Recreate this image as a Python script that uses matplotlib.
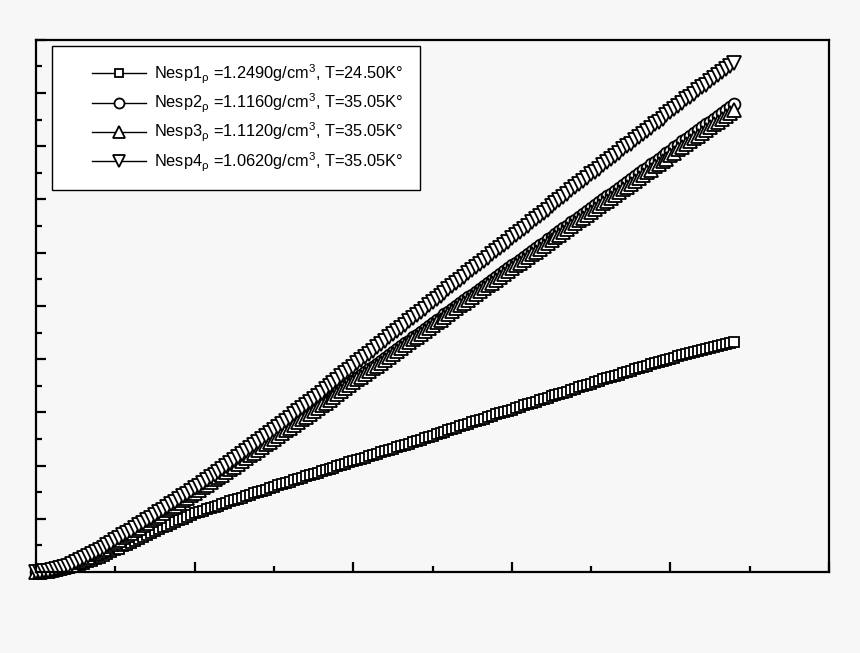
import numpy as np
import matplotlib.pyplot as plt
from matplotlib.ticker import MultipleLocator
from matplotlib.legend_handler import HandlerLine2D

# sample positions (markers are evenly spaced along x in the picture)
x = np.round(np.arange(0, 4.4001, 0.025), 3)

# one row = 0.2 along x
nesp1 = [0.00, 0.00, 0.00, 0.01, 0.01, 0.02, 0.03, 0.05,
         0.07, 0.09, 0.11, 0.14, 0.16, 0.19, 0.21, 0.24,
         0.27, 0.30, 0.34, 0.37, 0.41, 0.44, 0.48, 0.51,
         0.55, 0.59, 0.62, 0.66, 0.70, 0.73, 0.77, 0.80,
         0.84, 0.87, 0.91, 0.94, 0.97, 1.00, 1.04, 1.07,
         1.10, 1.13, 1.15, 1.18, 1.20, 1.23, 1.25, 1.28,
         1.30, 1.33, 1.35, 1.38, 1.40, 1.43, 1.45, 1.48,
         1.50, 1.53, 1.55, 1.58, 1.60, 1.63, 1.65, 1.68,
         1.70, 1.72, 1.75, 1.77, 1.80, 1.82, 1.84, 1.87,
         1.89, 1.91, 1.94, 1.96, 1.99, 2.01, 2.03, 2.06,
         2.08, 2.10, 2.13, 2.15, 2.18, 2.20, 2.22, 2.25,
         2.27, 2.29, 2.32, 2.34, 2.37, 2.39, 2.41, 2.44,
         2.46, 2.49, 2.51, 2.54, 2.56, 2.59, 2.61, 2.64,
         2.66, 2.69, 2.71, 2.74, 2.76, 2.79, 2.81, 2.84,
         2.86, 2.88, 2.91, 2.93, 2.96, 2.98, 3.00, 3.03,
         3.05, 3.08, 3.10, 3.13, 3.15, 3.18, 3.20, 3.23,
         3.25, 3.27, 3.30, 3.32, 3.35, 3.37, 3.39, 3.42,
         3.44, 3.47, 3.49, 3.52, 3.54, 3.57, 3.59, 3.62,
         3.64, 3.66, 3.69, 3.71, 3.74, 3.76, 3.78, 3.81,
         3.83, 3.85, 3.88, 3.90, 3.92, 3.94, 3.97, 3.99,
         4.01, 4.03, 4.05, 4.07, 4.09, 4.11, 4.13, 4.15,
         4.17, 4.19, 4.21, 4.23, 4.25, 4.26, 4.28, 4.30,
         4.32]

nesp2 = [0.00, 0.00, 0.01, 0.02, 0.03, 0.05, 0.07, 0.09,
         0.11, 0.14, 0.18, 0.21, 0.25, 0.29, 0.33, 0.36,
         0.40, 0.44, 0.48, 0.53, 0.57, 0.61, 0.65, 0.70,
         0.74, 0.79, 0.83, 0.88, 0.92, 0.97, 1.02, 1.06,
         1.11, 1.16, 1.20, 1.25, 1.30, 1.35, 1.39, 1.44,
         1.49, 1.54, 1.59, 1.64, 1.69, 1.74, 1.79, 1.84,
         1.89, 1.94, 1.99, 2.05, 2.10, 2.15, 2.20, 2.26,
         2.31, 2.36, 2.42, 2.47, 2.52, 2.58, 2.63, 2.69,
         2.74, 2.79, 2.85, 2.90, 2.95, 3.01, 3.06, 3.12,
         3.17, 3.22, 3.28, 3.33, 3.38, 3.44, 3.49, 3.55,
         3.59, 3.64, 3.70, 3.75, 3.81, 3.86, 3.91, 3.97,
         4.02, 4.08, 4.13, 4.19, 4.24, 4.30, 4.35, 4.41,
         4.46, 4.51, 4.56, 4.62, 4.67, 4.73, 4.78, 4.84,
         4.89, 4.95, 5.00, 5.06, 5.11, 5.16, 5.21, 5.27,
         5.32, 5.38, 5.43, 5.49, 5.54, 5.60, 5.65, 5.71,
         5.76, 5.81, 5.86, 5.92, 5.97, 6.03, 6.08, 6.14,
         6.19, 6.25, 6.30, 6.36, 6.41, 6.46, 6.51, 6.57,
         6.62, 6.68, 6.73, 6.79, 6.84, 6.90, 6.95, 7.01,
         7.06, 7.11, 7.16, 7.22, 7.27, 7.33, 7.38, 7.44,
         7.49, 7.55, 7.60, 7.66, 7.71, 7.76, 7.81, 7.87,
         7.92, 7.98, 8.03, 8.09, 8.14, 8.20, 8.25, 8.31,
         8.36, 8.41, 8.46, 8.52, 8.57, 8.63, 8.68, 8.74,
         8.79]

nesp3 = [0.00, 0.00, 0.01, 0.02, 0.03, 0.05, 0.07, 0.09,
         0.11, 0.14, 0.18, 0.21, 0.25, 0.29, 0.33, 0.36,
         0.40, 0.44, 0.48, 0.53, 0.57, 0.61, 0.65, 0.70,
         0.74, 0.79, 0.83, 0.88, 0.92, 0.97, 1.02, 1.06,
         1.11, 1.16, 1.20, 1.25, 1.30, 1.35, 1.39, 1.44,
         1.49, 1.54, 1.59, 1.64, 1.69, 1.74, 1.78, 1.83,
         1.88, 1.93, 1.98, 2.03, 2.09, 2.14, 2.19, 2.24,
         2.29, 2.34, 2.40, 2.45, 2.50, 2.55, 2.61, 2.66,
         2.71, 2.76, 2.82, 2.87, 2.92, 2.97, 3.03, 3.08,
         3.13, 3.18, 3.24, 3.29, 3.35, 3.40, 3.46, 3.51,
         3.57, 3.62, 3.67, 3.72, 3.78, 3.83, 3.88, 3.93,
         3.99, 4.04, 4.10, 4.15, 4.21, 4.26, 4.32, 4.37,
         4.42, 4.47, 4.53, 4.58, 4.64, 4.69, 4.74, 4.79,
         4.85, 4.90, 4.96, 5.01, 5.06, 5.11, 5.17, 5.22,
         5.28, 5.33, 5.39, 5.44, 5.49, 5.54, 5.60, 5.65,
         5.71, 5.76, 5.81, 5.86, 5.92, 5.97, 6.02, 6.07,
         6.13, 6.18, 6.24, 6.29, 6.34, 6.39, 6.45, 6.50,
         6.56, 6.61, 6.66, 6.71, 6.77, 6.82, 6.88, 6.93,
         6.98, 7.03, 7.09, 7.14, 7.19, 7.24, 7.30, 7.35,
         7.41, 7.46, 7.51, 7.56, 7.62, 7.67, 7.72, 7.77,
         7.83, 7.88, 7.94, 7.99, 8.04, 8.09, 8.15, 8.20,
         8.25, 8.30, 8.36, 8.41, 8.46, 8.51, 8.57, 8.62,
         8.68]

nesp4 = [0.00, 0.00, 0.01, 0.02, 0.03, 0.05, 0.07, 0.09,
         0.12, 0.15, 0.19, 0.22, 0.26, 0.30, 0.34, 0.38,
         0.42, 0.46, 0.51, 0.55, 0.60, 0.64, 0.69, 0.73,
         0.78, 0.83, 0.88, 0.92, 0.97, 1.02, 1.07, 1.12,
         1.17, 1.22, 1.27, 1.32, 1.37, 1.42, 1.47, 1.52,
         1.57, 1.62, 1.67, 1.73, 1.78, 1.83, 1.88, 1.94,
         1.99, 2.05, 2.10, 2.16, 2.21, 2.27, 2.33, 2.38,
         2.44, 2.50, 2.55, 2.61, 2.67, 2.73, 2.78, 2.84,
         2.90, 2.96, 3.02, 3.08, 3.14, 3.19, 3.25, 3.31,
         3.37, 3.43, 3.49, 3.55, 3.61, 3.68, 3.74, 3.80,
         3.86, 3.92, 3.98, 4.04, 4.10, 4.16, 4.23, 4.29,
         4.35, 4.41, 4.47, 4.53, 4.59, 4.65, 4.71, 4.77,
         4.83, 4.89, 4.95, 5.01, 5.07, 5.13, 5.19, 5.25,
         5.31, 5.37, 5.43, 5.49, 5.55, 5.61, 5.67, 5.73,
         5.79, 5.85, 5.91, 5.97, 6.03, 6.09, 6.15, 6.21,
         6.27, 6.33, 6.39, 6.45, 6.51, 6.57, 6.63, 6.69,
         6.75, 6.81, 6.87, 6.93, 6.99, 7.05, 7.11, 7.17,
         7.23, 7.29, 7.35, 7.41, 7.47, 7.52, 7.58, 7.64,
         7.70, 7.76, 7.82, 7.88, 7.94, 8.00, 8.05, 8.11,
         8.17, 8.23, 8.29, 8.35, 8.41, 8.46, 8.52, 8.58,
         8.64, 8.70, 8.76, 8.82, 8.88, 8.93, 8.99, 9.05,
         9.11, 9.16, 9.22, 9.28, 9.34, 9.39, 9.45, 9.51,
         9.57]

labels = [r'Nesp1$_{\rho}$ =1.2490g/cm$^3$, T=24.50K°',
          r'Nesp2$_{\rho}$ =1.1160g/cm$^3$, T=35.05K°',
          r'Nesp3$_{\rho}$ =1.1120g/cm$^3$, T=35.05K°',
          r'Nesp4$_{\rho}$ =1.0620g/cm$^3$, T=35.05K°']
markers = ['s', 'o', '^', 'v']
msizes = [7, 8.5, 9.5, 9.5]


class PadHandler(HandlerLine2D):
    # leave blank space before the legend line, as in the original
    def get_xdata(self, legend, xdescent, ydescent, width, height, fontsize):
        pad = 0.3 * width
        return super().get_xdata(legend, xdescent - pad, ydescent, width - pad,
                                 height, fontsize)


plt.rcParams['font.family'] = ['Liberation Sans', 'DejaVu Sans']
plt.rcParams['mathtext.fontset'] = 'custom'
plt.rcParams['mathtext.rm'] = 'Liberation Sans'
plt.rcParams['mathtext.it'] = 'Liberation Sans'

bg = '#f7f7f7'
fig = plt.figure(figsize=(8.6, 6.53), dpi=100, facecolor=bg)
ax = fig.add_axes([0.042, 0.124, 0.922, 0.815], facecolor=bg)

for ys, m, ms, lab in zip([nesp1, nesp2, nesp3, nesp4], markers, msizes, labels):
    ax.plot(x, ys, color='black', lw=1, marker=m, ms=ms, mfc='white',
            mec='black', mew=1.3, label=lab, clip_on=False)

ax.set_xlim(0, 5)
ax.set_ylim(0, 10)
ax.xaxis.set_major_locator(MultipleLocator(1))
ax.xaxis.set_minor_locator(MultipleLocator(0.5))
ax.yaxis.set_major_locator(MultipleLocator(1))
ax.yaxis.set_minor_locator(MultipleLocator(0.5))
ax.tick_params(which='both', direction='in', top=False, right=False,
               labelbottom=False, labelleft=False, width=1.6, color='black')
ax.tick_params(which='major', length=7.5)
ax.tick_params(which='minor', length=4)
for s in ax.spines.values():
    s.set_linewidth(1.6)

leg = ax.legend(loc='upper left', bbox_to_anchor=(0.02, 0.988), borderaxespad=0,
                fontsize=11.8, fancybox=False, edgecolor='black', framealpha=1,
                handlelength=4.75, handletextpad=0.5, labelspacing=0.36,
                borderpad=1.0, markerscale=0.85,
                handler_map={plt.Line2D: PadHandler()})
leg.get_frame().set_linewidth(1.0)

fig.savefig('out.png', dpi=100, facecolor=bg)
